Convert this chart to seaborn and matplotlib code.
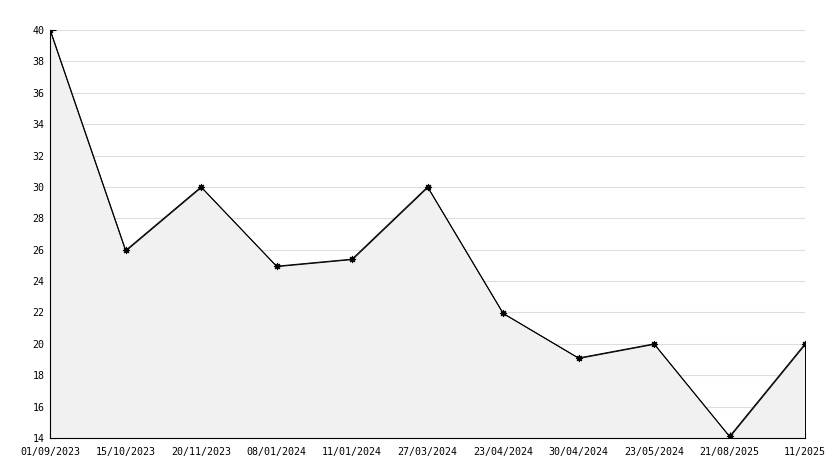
import numpy as np
import pandas as pd
import seaborn as sns
import matplotlib.pyplot as plt
from matplotlib.ticker import MultipleLocator

# data
dates = ['01/09/2023', '15/10/2023', '20/11/2023', '08/01/2024', '11/01/2024',
         '27/03/2024', '23/04/2024', '30/04/2024', '23/05/2024', '21/08/2025', '11/2025']
values = [40, 25.95, 30, 24.95, 25.4, 30, 21.95, 19.1, 20, 14.1, 20]

df = pd.DataFrame({'pos': np.arange(len(dates)), 'value': values})

sns.set_style('white')
plt.rcParams['font.family'] = ['DejaVu Sans Mono']

fig = plt.figure(figsize=(8.34, 4.68), dpi=100)
ax = fig.add_axes([50 / 834, 1 - 438 / 468, 755 / 834, 408 / 468])

ax.set_xlim(0, len(dates) - 1)
ax.set_ylim(14, 40)
ax.yaxis.set_major_locator(MultipleLocator(2))
ax.yaxis.set_minor_locator(MultipleLocator(1))

# grid lines behind the fill, ticks stay on top
for t in ax.get_yticks():
    ax.axhline(t, color='#dddddd', linewidth=0.8, zorder=0)

ax.fill_between(df['pos'], df['value'], 14, facecolor='#f1f1f1',
                edgecolor='black', linewidth=0.7, zorder=1)
sns.lineplot(data=df, x='pos', y='value', color='black', linewidth=0.7,
             marker=(8, 1, 0), markersize=5, markeredgewidth=0.6,
             markerfacecolor='black', markeredgecolor='black', ax=ax, zorder=3)

ax.set_xlim(0, len(dates) - 1)
ax.set_ylim(14, 40)
ax.set_xticks(df['pos'])
ax.set_xticklabels(dates)
ax.tick_params(axis='both', which='major', direction='in', length=4, width=0.8,
               labelsize=7.2, colors='black')
ax.tick_params(axis='y', which='major', pad=4)
ax.tick_params(axis='x', which='major', pad=6.5)
ax.tick_params(axis='y', which='minor', direction='in', length=2.5, width=0.8, left=True)
ax.tick_params(axis='x', bottom=True)
ax.tick_params(axis='y', left=True)
ax.set_xlabel('')
ax.set_ylabel('')

for s in ['top', 'right']:
    ax.spines[s].set_visible(False)
for s in ['left', 'bottom']:
    ax.spines[s].set_color('black')
    ax.spines[s].set_linewidth(0.8)

fig.savefig('out.png', dpi=100)
